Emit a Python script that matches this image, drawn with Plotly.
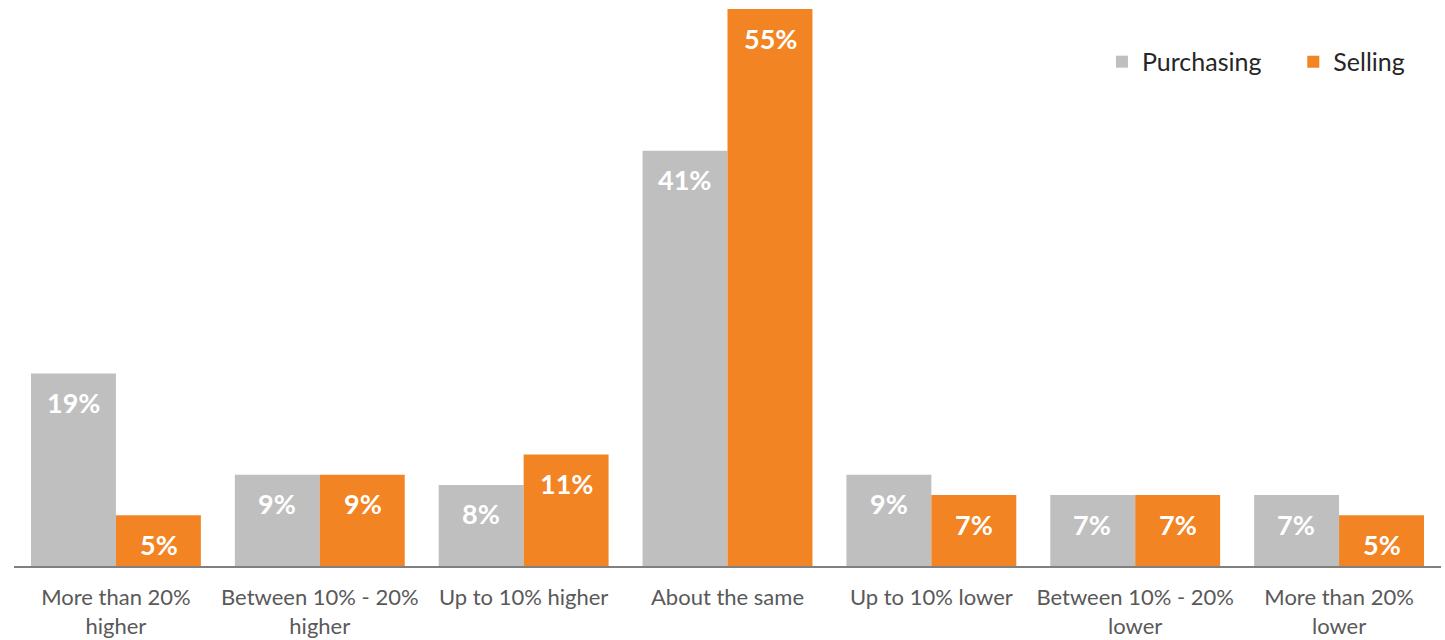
import plotly.graph_objects as go

categories = [
    "More than 20%<br>higher",
    "Between 10% - 20%<br>higher",
    "Up to 10% higher",
    "About the same",
    "Up to 10% lower",
    "Between 10% - 20%<br>lower",
    "More than 20%<br>lower",
]
purchasing = [19, 9, 8, 41, 9, 7, 7]
selling = [5, 9, 11, 55, 7, 7, 5]

GRAY = "#BFBFBF"
ORANGE = "#F28423"
FONT = "Lato"

fig = go.Figure()
fig.add_trace(go.Bar(name="Purchasing", x=categories, y=purchasing,
                     marker=dict(color=GRAY, line=dict(width=0)), legend="legend"))
fig.add_trace(go.Bar(name="Selling", x=categories, y=selling,
                     marker=dict(color=ORANGE, line=dict(width=0)), legend="legend2"))

# value labels inside the top of each bar
annotations = []
for i, cat in enumerate(categories):
    for val, off in ((purchasing[i], -0.21), (selling[i], 0.21)):
        annotations.append(dict(
            x=i + off, y=val, xref="x", yref="y", text=f"<b>{val}%</b>",
            showarrow=False, yanchor="middle", yshift=-29,
            font=dict(family=FONT, size=27, color="white")))

legend_style = dict(orientation="h", y=0.905, xanchor="left", yanchor="middle",
                    font=dict(family=FONT, size=25, color="#262626"),
                    itemwidth=30, bgcolor="rgba(0,0,0,0)")

fig.update_layout(
    width=1445, height=640,
    margin=dict(l=14, r=4, t=9, b=74),
    barmode="group", bargap=1/6, bargroupgap=0,
    plot_bgcolor="white", paper_bgcolor="white",
    font=dict(family=FONT),
    showlegend=True,
    legend=dict(x=0.7624, **legend_style),
    legend2=dict(x=0.8965, **legend_style),
    annotations=annotations,
)
fig.update_xaxes(showline=True, linecolor="#808080", linewidth=2,
                 ticks="outside", ticklen=11, tickcolor="white",
                 tickangle=0, automargin=False,
                 tickfont=dict(family=FONT, size=22, color="#595959"),
                 showgrid=False)
fig.update_yaxes(range=[0, 55], visible=False, showgrid=False, zeroline=False)

fig.write_html("out.html")
